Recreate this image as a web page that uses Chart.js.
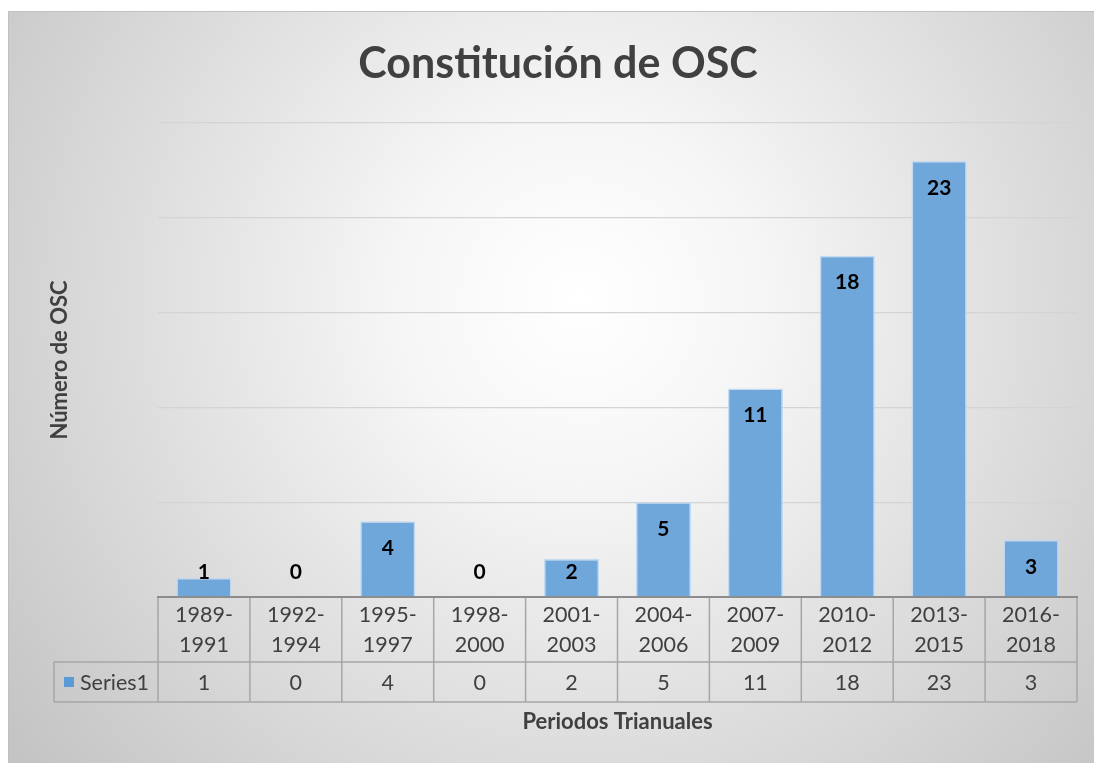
<!DOCTYPE html>
<html><head><meta charset="utf-8">
<script src="https://cdn.jsdelivr.net/npm/chart.js@4.4.0/dist/chart.umd.min.js"></script>
<style>html,body{margin:0;padding:0;background:#fff;}canvas{display:block;}</style>
</head><body>
<canvas id="c" width="1094" height="763"></canvas>
<script>
const categories = [['1989-','1991'],['1992-','1994'],['1995-','1997'],['1998-','2000'],['2001-','2003'],['2004-','2006'],['2007-','2009'],['2010-','2012'],['2013-','2015'],['2016-','2018']];
const seriesValues = [1,0,4,0,2,5,11,18,23,3];
const seriesName = 'Series1';
const titleText = 'Constitución de OSC';
const yTitle = 'Número de OSC';
const xTitle = 'Periodos Trianuales';

const FONT = 'Lato, "Open Sans", sans-serif';
const TEXT = '#404040';

const bgPlugin = {
  id:'bg',
  beforeDraw(chart){
    const ctx = chart.ctx;
    ctx.save();
    ctx.fillStyle = '#ffffff';
    ctx.fillRect(0,0,chart.width,chart.height);
    const g = ctx.createRadialGradient(580,300,0,580,300,720);
    g.addColorStop(0,'#ffffff');
    g.addColorStop(0.25,'#f6f6f6');
    g.addColorStop(1,'#c4c4c4');
    ctx.fillStyle = g;
    ctx.fillRect(8,11,chart.width-8,chart.height-11);
    ctx.strokeStyle = '#c0c0c0';
    ctx.lineWidth = 1;
    ctx.beginPath();
    ctx.moveTo(8.5,chart.height);
    ctx.lineTo(8.5,11.5);
    ctx.lineTo(chart.width,11.5);
    ctx.stroke();
    ctx.restore();
  }
};

const decorPlugin = {
  id:'decor',
  afterDatasetsDraw(chart){
    const ctx = chart.ctx;
    const ca = chart.chartArea;
    const xs = chart.scales.x, ys = chart.scales.y;
    const meta = chart.getDatasetMeta(0);
    ctx.save();
    // data labels
    ctx.fillStyle = '#000';
    ctx.font = 'bold 21px ' + FONT;
    ctx.textAlign = 'center';
    ctx.textBaseline = 'middle';
    const base = ys.getPixelForValue(0);
    meta.data.forEach((bar,i)=>{
      const y = Math.min(bar.y + 27, base - 25);
      ctx.fillText(String(seriesValues[i]), bar.x, y);
    });
    // title
    ctx.fillStyle = TEXT;
    ctx.font = 'bold 43px ' + FONT;
    ctx.fillText(titleText, 558, 64);
    // axis titles
    ctx.font = 'bold 22px ' + FONT;
    ctx.fillText(xTitle, (ca.left+ca.right)/2, 722);
    ctx.save();
    ctx.translate(60,(ca.top+ca.bottom)/2);
    ctx.rotate(-Math.PI/2);
    ctx.fillText(yTitle,0,0);
    ctx.restore();
    // data table
    const n = categories.length;
    const step = (ca.right-ca.left)/n;
    const top = ca.bottom+1, mid = top+64, bot = mid+40;
    const legL = 54;
    ctx.strokeStyle = '#a6a6a6';
    ctx.lineWidth = 1.5;
    ctx.beginPath();
    ctx.moveTo(ca.left,mid); ctx.lineTo(ca.right,mid);
    ctx.moveTo(legL,mid); ctx.lineTo(ca.left,mid);
    ctx.moveTo(legL,bot); ctx.lineTo(ca.right,bot);
    ctx.moveTo(legL,mid); ctx.lineTo(legL,bot);
    for(let i=0;i<=n;i++){
      const x = ca.left + i*step;
      ctx.moveTo(x,top); ctx.lineTo(x,bot);
    }
    ctx.stroke();
    ctx.fillStyle = TEXT;
    ctx.font = '21.5px ' + FONT;
    for(let i=0;i<n;i++){
      const cx = xs.getPixelForValue(i);
      ctx.fillText(categories[i][0], cx, top+17);
      ctx.fillText(categories[i][1], cx, top+47);
      ctx.fillText(String(seriesValues[i]), cx, mid+21);
    }
    ctx.fillStyle = '#5b9bd5';
    ctx.fillRect(64,mid+15,10,10);
    ctx.fillStyle = TEXT;
    ctx.textAlign = 'left';
    ctx.fillText(seriesName, 80, mid+21);
    ctx.restore();
  }
};

new Chart(document.getElementById('c'), {
  type:'bar',
  data:{
    labels: categories.map(c=>c.join('')),
    datasets:[{
      label: seriesName,
      data: seriesValues,
      backgroundColor:'#70a7da',
      borderColor:'rgba(190,215,240,0.9)',
      borderWidth:1.5,
      barPercentage:0.6,
      categoryPercentage:1.0
    }]
  },
  options:{
    responsive:false,
    animation:false,
    layout:{padding:{left:158,right:17,top:123,bottom:166}},
    plugins:{legend:{display:false},title:{display:false},tooltip:{enabled:false}},
    scales:{
      x:{
        grid:{display:false,drawTicks:false},
        ticks:{display:false},
        border:{display:true,color:'#8c8c8c',width:2}
      },
      y:{
        min:0,max:25,
        ticks:{display:false,stepSize:5},
        grid:{color:'#d4d4d4',lineWidth:1.3,drawTicks:false},
        border:{display:false}
      }
    }
  },
  plugins:[bgPlugin,decorPlugin]
});
</script>
</body></html>
